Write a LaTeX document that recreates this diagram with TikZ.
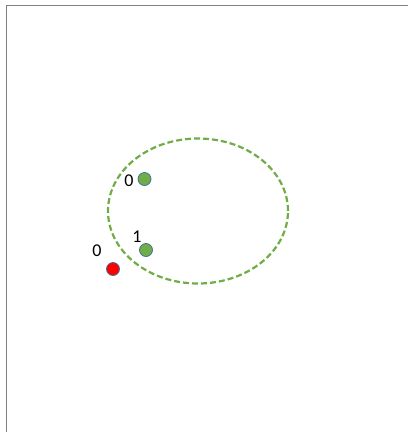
\documentclass[tikz,border=0pt]{standalone}
\usepackage{fontspec}
\setmainfont{Carlito}
\usetikzlibrary{shapes.geometric}
\definecolor{dotgreen}{HTML}{70AD47}
\definecolor{dotedge}{HTML}{41719C}
\definecolor{framegray}{HTML}{808080}
\tikzset{
  dotnode/.style={circle, draw=dotedge, line width=0.8pt, minimum size=13pt, inner sep=0pt},
  lbl/.style={font=\fontsize{18}{18}\selectfont, inner sep=0pt},
}
\begin{document}
\begin{tikzpicture}[x=1pt,y=-1pt]
\useasboundingbox (0,0) rectangle (408,432);
\draw[framegray, line width=1.5pt] (6.5,432) -- (6.5,5.5) -- (408,5.5);
\node[draw=dotgreen, line width=2.2pt, dash pattern=on 6pt off 3pt, ellipse, minimum width=180pt, minimum height=145pt, inner sep=0pt] (ell) at (198,211) {};
\node[dotnode, fill=dotgreen] (g0) at (144.5,179) {};
\node[dotnode, fill=dotgreen] (g1) at (146,250) {};
\node[dotnode, fill=red] (r0) at (113,269) {};
\node[lbl] (l0) at (129,181) {0};
\node[lbl] (l1) at (137,237) {1};
\node[lbl] (l2) at (97,251) {0};
\end{tikzpicture}
\end{document}
